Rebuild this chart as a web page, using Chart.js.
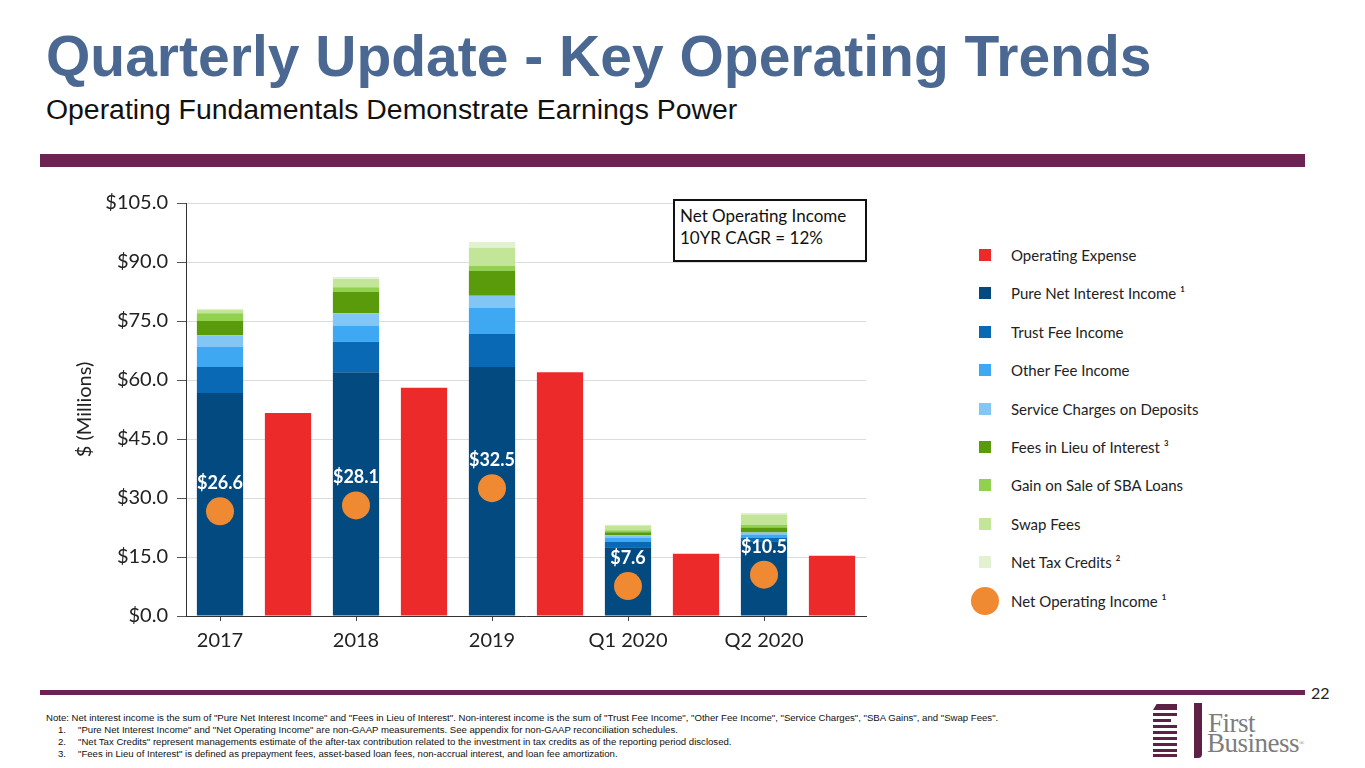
<!DOCTYPE html>
<html>
<head>
<meta charset="utf-8">
<script src="https://cdn.jsdelivr.net/npm/chart.js@4.4.1/dist/chart.umd.min.js"></script>
<style>
  html, body { margin:0; padding:0; background:#fff; }
  body { width:1365px; height:768px; position:relative; overflow:hidden; font-family:"Liberation Sans", Arial, sans-serif; }
  .abs { position:absolute; }
  #title { left:46px; top:28px; font-size:57px; line-height:57px; font-weight:bold; color:#4a6891; white-space:nowrap; }
  #subtitle { left:46px; top:95px; font-size:28.4px; line-height:28px; color:#111; white-space:nowrap; }
  #topbar { left:40px; top:154px; width:1265px; height:13px; background:#6c2353; }
  #botbar { left:40px; top:690px; width:1265px; height:5px; background:#6c2353; }
  #pagenum { left:1311px; top:683px; font-family:Lato, sans-serif; font-size:16px; color:#222; }
  #chartwrap { left:0; top:0; width:900px; height:680px; }
  #annot { left:673px; top:199px; border:2px solid #111; background:#fff;
           font-family:Lato, sans-serif; font-size:17px; line-height:22px; color:#111; padding:4px 0 0 5px; box-sizing:border-box; width:194px; height:63px; }
  .leg { position:absolute; left:1011px; font-family:Lato, sans-serif; font-size:15px; color:#222; white-space:nowrap; transform:translateY(-50%); }
  .sw { position:absolute; left:979px; width:12px; height:12px; }
  .dot { position:absolute; left:971px; width:28px; height:28px; border-radius:50%; background:#ef8a33; }
  .note { position:absolute; font-family:"Liberation Sans", Arial, sans-serif; font-size:9.6px; color:#111; white-space:nowrap; }
  .stripe { position:absolute; left:1153px; width:24px; height:3px; background:#5e2146; }
  .logo { position:absolute; font-family:'Liberation Serif', serif; font-size:27px; line-height:27px; color:#7d7d7d; letter-spacing:-0.5px; }
</style>
</head>
<body>
<div id="title" class="abs">Quarterly Update - Key Operating Trends</div>
<div id="subtitle" class="abs">Operating Fundamentals Demonstrate Earnings Power</div>
<div id="topbar" class="abs"></div>

<div id="chartwrap" class="abs"><canvas id="c" width="900" height="680"></canvas></div>
<div id="annot" class="abs">Net Operating Income<br>10YR CAGR = 12%</div>

<div id="legend"></div>

<div id="botbar" class="abs"></div>
<div id="pagenum" class="abs">22</div>

<div class="note" style="left:46px; top:712px;">Note: Net interest income is the sum of "Pure Net Interest Income" and "Fees in Lieu of Interest". Non-interest income is the sum of "Trust Fee Income", "Other Fee Income", "Service Charges", "SBA Gains", and "Swap Fees".</div>
<div class="note" style="left:58px; top:724px;">1.</div>
<div class="note" style="left:78px; top:724px;">"Pure Net Interest Income" and "Net Operating Income" are non-GAAP measurements. See appendix for non-GAAP reconciliation schedules.</div>
<div class="note" style="left:58px; top:736px;">2.</div>
<div class="note" style="left:78px; top:736px;">"Net Tax Credits" represent managements estimate of the after-tax contribution related to the investment in tax credits as of the reporting period disclosed.</div>
<div class="note" style="left:58px; top:748px;">3.</div>
<div class="note" style="left:78px; top:748px;">"Fees in Lieu of Interest" is defined as prepayment fees, asset-based loan fees, non-accrual interest, and loan fee amortization.</div>

<!-- logo -->
<div class="abs" style="left:1153px; top:704px; width:24px; height:6px; background:#5e2146; clip-path:polygon(0 100%, 15% 0, 100% 0, 100% 100%);"></div>
<div class="stripe" style="top:713px;"></div>
<div class="stripe" style="top:719px; width:18px;"></div>
<div class="stripe" style="top:725px;"></div>
<div class="stripe" style="top:731px;"></div>
<div class="stripe" style="top:737px;"></div>
<div class="stripe" style="top:743px;"></div>
<div class="stripe" style="top:749px;"></div>
<div class="stripe" style="top:754px;"></div>
<div class="abs" style="left:1194px; top:703px; width:8px; height:55px; background:#5e2146; border-radius:0 0 4px 0;"></div>
<div class="logo" style="left:1208px; top:710px;">First</div>
<div class="logo" style="left:1207px; top:730px;">Business<span style="font-size:7px; vertical-align:top;">®</span></div>

<script>
// ---- data ($ millions) ----
const categories = ['2017', '2018', '2019', 'Q1 2020', 'Q2 2020'];
const operatingExpense   = [51.6, 58.0, 62.0, 15.8, 15.3];
const pureNetInterest    = [56.7, 62.0, 63.3, 17.5, 19.0];
const trustFeeIncome     = [6.6, 7.7, 8.4, 1.3, 0.8];
const otherFeeIncome     = [5.1, 4.0, 6.6, 1.0, 0.8];
const serviceCharges     = [3.0, 3.3, 3.1, 0.7, 0.6];
const feesInLieu         = [3.6, 5.4, 6.3, 0.8, 1.3];
const sbaGains           = [2.0, 1.2, 1.3, 0.5, 0.7];
const swapFees           = [0.8, 2.1, 4.6, 1.2, 2.6];
const netTaxCredits      = [0.3, 0.5, 1.5, 0.2, 0.4];
const netOperatingIncome = [26.6, 28.1, 32.5, 7.6, 10.5];
const yTickMin = 0, yTickMax = 105, yTickStep = 15;

// ---- series meta ----
const seriesNames = {
  opex: 'Operating Expense',
  pnii: 'Pure Net Interest Income \u00B9',
  trust: 'Trust Fee Income',
  other: 'Other Fee Income',
  svc: 'Service Charges on Deposits',
  fli: 'Fees in Lieu of Interest \u00B3',
  sba: 'Gain on Sale of SBA Loans',
  swap: 'Swap Fees',
  ntc: 'Net Tax Credits \u00B2',
  noi: 'Net Operating Income \u00B9'
};
const colors = {
  opex: '#ec2a2a', pnii: '#034a80', trust: '#0a69b5', other: '#3fa8f2', svc: '#82c6f6',
  fli: '#5a9b0c', sba: '#92d050', swap: '#c3e597', ntc: '#e2f2d0', noi: '#ef8a33'
};

// each period gets two slots: income stack, then expense bar
const slotLabels = [];
categories.forEach(c => { slotLabels.push(c); slotLabels.push(''); });
const incomeSlots = arr => arr.flatMap(v => [v, null]);
const expenseSlots = arr => arr.flatMap(v => [null, v]);

const incomeSeries = [
  ['pnii', pureNetInterest], ['trust', trustFeeIncome], ['other', otherFeeIncome],
  ['svc', serviceCharges], ['fli', feesInLieu], ['sba', sbaGains], ['swap', swapFees], ['ntc', netTaxCredits]
];

const datasets = incomeSeries.map(([k, arr]) => ({
  type: 'bar', label: seriesNames[k], data: incomeSlots(arr), backgroundColor: colors[k],
  stack: 'main', order: 1, barPercentage: 0.68, categoryPercentage: 1.0, borderWidth: 0
}));
datasets.push({
  type: 'bar', label: seriesNames.opex, data: expenseSlots(operatingExpense), backgroundColor: colors.opex,
  stack: 'main', order: 1, barPercentage: 0.68, categoryPercentage: 1.0, borderWidth: 0
});
datasets.push({
  type: 'line', label: seriesNames.noi, data: incomeSlots(netOperatingIncome), stack: 'noi', order: 0,
  showLine: false, pointRadius: 14, pointHoverRadius: 14, pointBackgroundColor: colors.noi,
  pointBorderWidth: 0, borderColor: colors.noi, backgroundColor: colors.noi
});

const pointLabels = {
  id: 'pointLabels',
  afterDatasetsDraw(chart) {
    const ctx = chart.ctx;
    chart.data.datasets.forEach((ds, i) => {
      if (ds.type !== 'line') return;
      chart.getDatasetMeta(i).data.forEach((pt, j) => {
        const v = ds.data[j];
        if (v == null) return;
        ctx.save();
        ctx.font = 'bold 18px Lato';
        ctx.fillStyle = '#ffffff';
        ctx.textAlign = 'center';
        ctx.textBaseline = 'middle';
        ctx.fillText('$' + v.toFixed(1), pt.x, pt.y - 28);
        ctx.restore();
      });
    });
  }
};

Chart.defaults.font.family = 'Lato, sans-serif';
Chart.defaults.color = '#222';

new Chart(document.getElementById('c'), {
  data: { labels: slotLabels, datasets },
  options: {
    responsive: false,
    animation: false,
    layout: { padding: { top: 203, right: 34, left: 0, bottom: 0 } },
    plugins: { legend: { display: false }, tooltip: { enabled: false } },
    scales: {
      x: {
        stacked: true,
        grid: { display: true, drawOnChartArea: false, drawTicks: true, tickLength: 5, offset: false,
                tickColor: c => (c.index % 2 === 0 ? '#444' : 'rgba(0,0,0,0)'), color: '#444' },
        border: { display: true, color: '#333', width: 1 },
        ticks: { font: { size: 20 }, color: '#222', padding: 8, autoSkip: false, maxRotation: 0 },
        afterFit(scale) { scale.height = 64; }
      },
      y: {
        stacked: true,
        min: yTickMin, max: yTickMax,
        ticks: { stepSize: yTickStep, font: { size: 20 }, color: '#222', padding: 9,
                 callback: v => '$' + Number(v).toFixed(1) },
        grid: { color: '#dcdcdc', tickColor: '#555', tickLength: 9, drawTicks: true },
        border: { display: true, color: '#333', width: 1 },
        title: { display: true, text: '$ (Millions)', font: { size: 20 }, color: '#222', padding: { top: 73, bottom: 0 } },
        afterFit(scale) { scale.width = 186; }
      }
    }
  },
  plugins: [pointLabels]
});

// ---- legend (HTML) ----
const legendOrder = ['opex', 'pnii', 'trust', 'other', 'svc', 'fli', 'sba', 'swap', 'ntc', 'noi'];
const legendY0 = 255, legendStep = 38.4;
const legendEl = document.getElementById('legend');
legendOrder.forEach((k, i) => {
  const y = legendY0 + i * legendStep;
  const mark = document.createElement('div');
  if (k === 'noi') { mark.className = 'dot'; mark.style.top = (y - 14) + 'px'; }
  else { mark.className = 'sw'; mark.style.top = (y - 6) + 'px'; mark.style.background = colors[k]; }
  legendEl.appendChild(mark);
  const t = document.createElement('div');
  t.className = 'leg';
  t.style.top = y + 'px';
  t.textContent = seriesNames[k];
  legendEl.appendChild(t);
});
</script>
</body>
</html>
